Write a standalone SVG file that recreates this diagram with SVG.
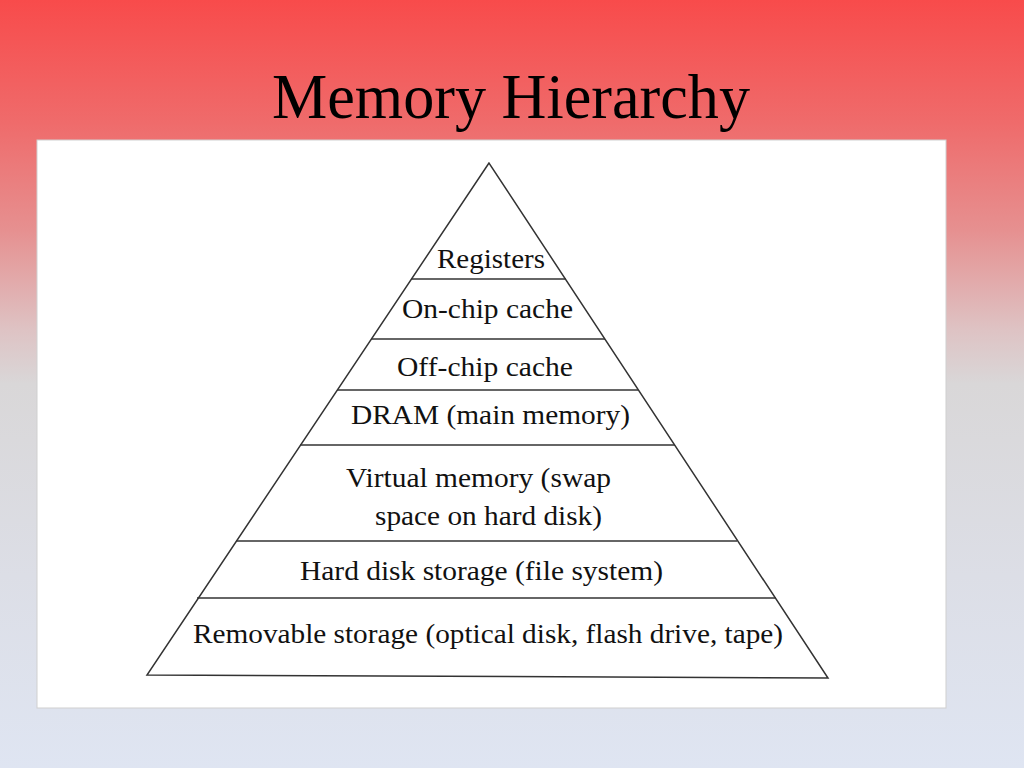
<svg xmlns="http://www.w3.org/2000/svg" width="1024" height="768" viewBox="0 0 1024 768">
<defs>
<linearGradient id="bg" x1="0" y1="0" x2="0" y2="1">
<stop offset="0" stop-color="#f84b4b"/>
<stop offset="0.16" stop-color="#ef6b6b"/>
<stop offset="0.3" stop-color="#e69090"/>
<stop offset="0.43" stop-color="#dec3c4"/>
<stop offset="0.5" stop-color="#d9d7d8"/>
<stop offset="0.75" stop-color="#dcdee6"/>
<stop offset="1" stop-color="#dfe5f2"/>
</linearGradient>
<style>
.lbl{font-family:'Liberation Serif','Times New Roman',serif;font-size:27px;fill:#111;}
.ttl{font-family:'Liberation Serif','Times New Roman',serif;font-size:63px;fill:#000;}
.ln{stroke:#333;stroke-width:1.5;fill:none;}
</style>
</defs>
<rect x="0" y="0" width="1024" height="768" fill="url(#bg)"/>
<text class="ttl" x="511" y="118" text-anchor="middle" textLength="478" lengthAdjust="spacingAndGlyphs">Memory Hierarchy</text>
<rect x="37" y="140" width="909" height="568" fill="#ffffff" stroke="#cfcfcf" stroke-width="1"/>
<g id="connectors">
<polygon class="ln" points="489,163 147,675 828,678"/>
<line class="ln" x1="411" y1="279" x2="566" y2="279"/>
<line class="ln" x1="371" y1="339" x2="605" y2="339"/>
<line class="ln" x1="337" y1="390" x2="638" y2="390"/>
<line class="ln" x1="300" y1="445" x2="675" y2="445"/>
<line class="ln" x1="236" y1="541" x2="737" y2="541"/>
<line class="ln" x1="197" y1="598" x2="776" y2="598" stroke-width="2.2"/>
</g>
<g id="registers"><text class="lbl" x="491" y="268" text-anchor="middle" textLength="108" lengthAdjust="spacingAndGlyphs">Registers</text></g>
<g id="onchip"><text class="lbl" x="487.5" y="318" text-anchor="middle" textLength="171" lengthAdjust="spacingAndGlyphs">On-chip cache</text></g>
<g id="offchip"><text class="lbl" x="485" y="376" text-anchor="middle" textLength="176" lengthAdjust="spacingAndGlyphs">Off-chip cache</text></g>
<g id="dram"><text class="lbl" x="490.5" y="424" text-anchor="middle" textLength="279" lengthAdjust="spacingAndGlyphs">DRAM (main memory)</text></g>
<g id="virtual">
<text class="lbl" x="478.5" y="487" text-anchor="middle" textLength="265" lengthAdjust="spacingAndGlyphs">Virtual memory (swap</text>
<text class="lbl" x="488.5" y="525" text-anchor="middle" textLength="227" lengthAdjust="spacingAndGlyphs">space on hard disk)</text>
</g>
<g id="harddisk"><text class="lbl" x="481.5" y="580" text-anchor="middle" textLength="363" lengthAdjust="spacingAndGlyphs">Hard disk storage (file system)</text></g>
<g id="removable"><text class="lbl" x="488" y="643" text-anchor="middle" textLength="590" lengthAdjust="spacingAndGlyphs">Removable storage (optical disk, flash drive, tape)</text></g>
</svg>
